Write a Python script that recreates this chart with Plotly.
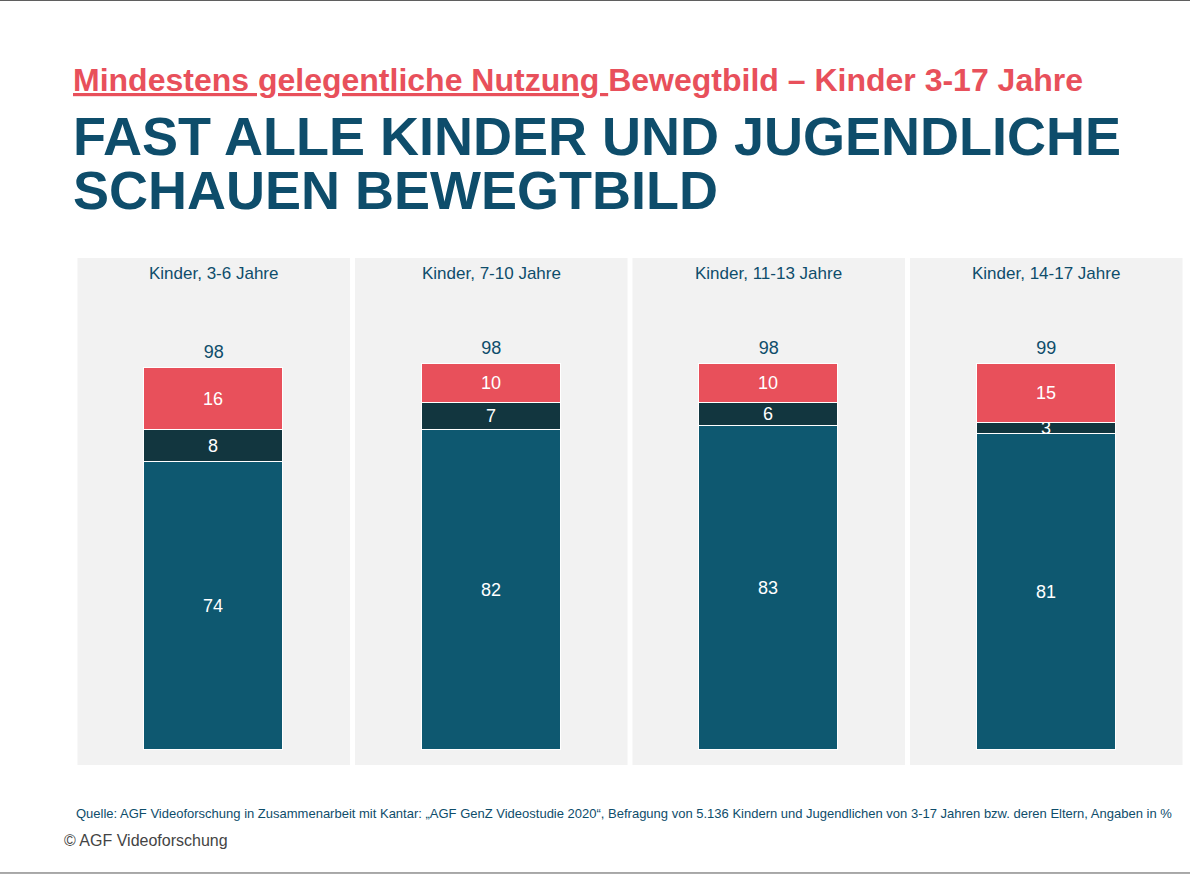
import plotly.graph_objects as go

groups = ["Kinder, 3-6 Jahre", "Kinder, 7-10 Jahre", "Kinder, 11-13 Jahre", "Kinder, 14-17 Jahre"]
base = [74, 82, 83, 81]
mid = [8, 7, 6, 3]
top = [16, 10, 10, 15]
totals = [98, 98, 98, 99]

TEAL = "#0E5870"
DARK = "#12363F"
RED = "#E8505B"
NAVY = "#0E4D6B"

x = list(range(len(groups)))
fig = go.Figure()
for vals, col in [(base, TEAL), (mid, DARK), (top, RED)]:
    fig.add_trace(go.Bar(
        x=x, y=vals, width=0.5, marker_color=col,
        marker_line_color="white", marker_line_width=1,
        text=[str(v) for v in vals], textposition="inside", insidetextanchor="middle",
        textangle=0,
        textfont=dict(color="white", size=18, family="Liberation Sans"),
        constraintext="none", showlegend=False, hoverinfo="skip"))

fig.add_trace(go.Scatter(
    x=x, y=[b + m + t + 1.5 for b, m, t in zip(base, mid, top)], mode="text",
    text=[str(v) for v in totals], textposition="top center",
    textfont=dict(color=NAVY, size=18, family="Liberation Sans"),
    showlegend=False, hoverinfo="skip"))

shapes = []
for i, g in enumerate(groups):
    shapes.append(dict(type="rect", xref="x", yref="paper", x0=i - 0.491, x1=i + 0.491,
                       y0=0, y1=1, fillcolor="#F2F2F2", line_width=0, layer="below"))
    fig.add_annotation(x=i, y=0.992, xref="x", yref="paper", text=g, showarrow=False,
                       font=dict(color=NAVY, size=17, family="Liberation Sans"))
shapes.append(dict(type="line", xref="paper", yref="paper", x0=-0.1, x1=1.1, y0=1.508, y1=1.508,
                   line=dict(color="#555", width=1)))
shapes.append(dict(type="line", xref="paper", yref="paper", x0=-0.1, x1=1.1, y0=-0.213, y1=-0.213,
                   line=dict(color="#555", width=1)))

fig.add_annotation(x=-0.004, y=1.39, xref="paper", yref="paper", xanchor="left", showarrow=False,
                   text="<b><span style='text-decoration:underline'>Mindestens gelegentliche Nutzung </span>Bewegtbild – Kinder 3-17 Jahre</b>",
                   font=dict(color=RED, size=32, family="Liberation Sans"))
for j, line in enumerate(["FAST ALLE KINDER UND JUGENDLICHE", "SCHAUEN BEWEGTBILD"]):
    fig.add_annotation(x=-0.004, y=1.24 - j * 0.105, xref="paper", yref="paper", xanchor="left",
                       yanchor="middle", showarrow=False, text="<b>" + line + "</b>",
                       font=dict(color=NAVY, size=54, family="Liberation Sans"))
fig.add_annotation(x=0.99, y=-0.115, xref="paper", yref="paper", xanchor="right", showarrow=False,
                   text="Quelle: AGF Videoforschung in Zusammenarbeit mit Kantar: „AGF GenZ Videostudie 2020“, Befragung von 5.136 Kindern und Jugendlichen von 3-17 Jahren bzw. deren Eltern, Angaben in %",
                   font=dict(color=NAVY, size=13, family="Liberation Sans"))
fig.add_annotation(x=-0.012, y=-0.169, xref="paper", yref="paper", xanchor="left", showarrow=False,
                   text="© AGF Videoforschung",
                   font=dict(color="#444", size=16, family="Liberation Sans"))

fig.update_layout(
    width=1190, height=876, barmode="stack", bargap=0,
    margin=dict(l=75, r=5, t=258, b=111),
    plot_bgcolor="white", paper_bgcolor="white",
    shapes=shapes,
    xaxis=dict(range=[-0.5, 3.5], visible=False, fixedrange=True),
    yaxis=dict(range=[-3.85, 126.2], visible=False, fixedrange=True),
    uniformtext=dict(minsize=14, mode="show"),
)
fig.write_html("out.html", config={"displayModeBar": False},
               post_script="document.body.style.margin='0';document.body.style.overflow='hidden';")
